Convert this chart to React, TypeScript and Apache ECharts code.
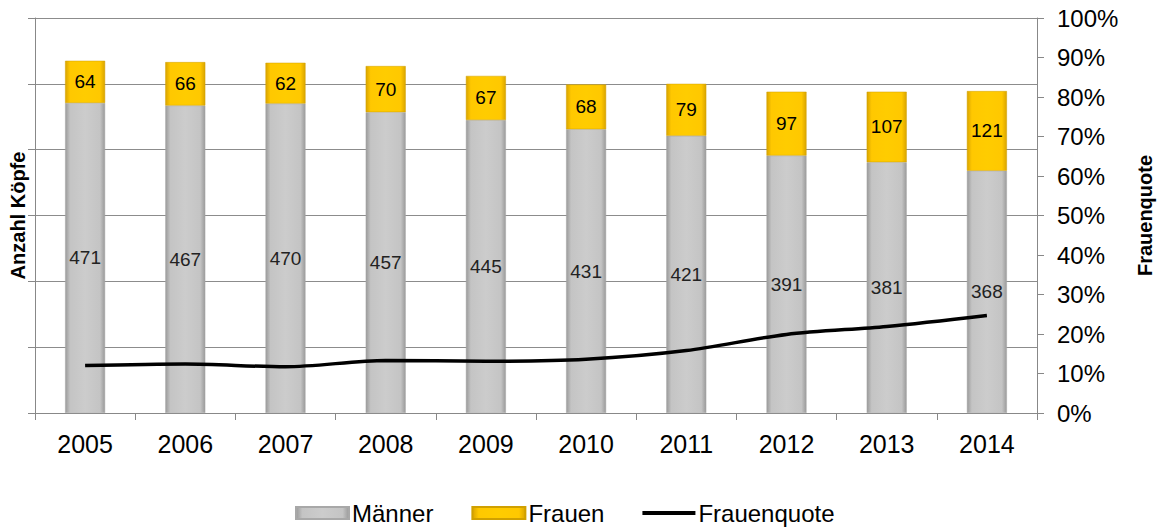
import React, { useEffect, useRef } from "react";
import * as echarts from "echarts";

const years = ["2005", "2006", "2007", "2008", "2009", "2010", "2011", "2012", "2013", "2014"];
const maenner = [471, 467, 470, 457, 445, 431, 421, 391, 381, 368];
const frauen = [64, 66, 62, 70, 67, 68, 79, 97, 107, 121];
const frauenquote = [0.12, 0.124, 0.117, 0.133, 0.131, 0.136, 0.158, 0.199, 0.219, 0.247];

const FONT = "'Liberation Sans', Arial, sans-serif";

export default function App() {
  const ref = useRef<HTMLDivElement>(null);
  useEffect(() => {
    if (!ref.current) return;
    const chart = echarts.init(ref.current, undefined, { renderer: "svg" });
    const grayGrad = new echarts.graphic.LinearGradient(0, 0, 1, 0, [
      { offset: 0, color: "#9a9a9a" },
      { offset: 0.12, color: "#c4c4c4" },
      { offset: 0.5, color: "#cccccc" },
      { offset: 0.88, color: "#c4c4c4" },
      { offset: 1, color: "#9a9a9a" },
    ]);
    const yellowGrad = new echarts.graphic.LinearGradient(0, 0, 1, 0, [
      { offset: 0, color: "#d9a400" },
      { offset: 0.12, color: "#ffc800" },
      { offset: 0.5, color: "#ffcc00" },
      { offset: 0.88, color: "#ffc800" },
      { offset: 1, color: "#d9a400" },
    ]);
    chart.setOption({
      animation: false,
      textStyle: { fontFamily: FONT },
      grid: { left: 35, right: 131, top: 18, bottom: 118 },
      legend: {
        top: 496,
        left: 290,
        itemWidth: 53,
        itemHeight: 12,
        itemGap: 38,
        textStyle: { fontSize: 24, color: "#000", fontFamily: FONT, padding: [0, 0, 0, -2] },
        data: [
          { name: "Männer", icon: "rect" },
          { name: "Frauen", icon: "rect" },
          { name: "Frauenquote", icon: "path://M0,0 L53,0 L53,4 L0,4 Z" },
        ],
      },
      xAxis: {
        type: "category",
        data: years,
        axisLine: { lineStyle: { color: "#888", width: 1 } },
        axisTick: { show: true, alignWithLabel: false, length: 7, lineStyle: { color: "#888" } },
        axisLabel: { fontSize: 25, color: "#000", margin: 18, fontFamily: FONT },
      },
      yAxis: [
        {
          type: "value",
          min: 0,
          max: 600,
          interval: 100,
          name: "Anzahl Köpfe",
          nameLocation: "middle",
          nameGap: 7,
          nameRotate: 90,
          nameTextStyle: { fontSize: 20, fontWeight: "bold", color: "#000", fontFamily: FONT },
          axisLine: { show: true, lineStyle: { color: "#888" } },
          axisTick: { show: true, length: 7, lineStyle: { color: "#888" } },
          axisLabel: { show: false },
          splitLine: { show: true, lineStyle: { color: "#8c8c8c", width: 1 } },
        },
        {
          type: "value",
          min: 0,
          max: 1,
          interval: 0.1,
          position: "right",
          name: "Frauenquote",
          nameLocation: "middle",
          nameGap: 98,
          nameRotate: 90,
          nameTextStyle: { fontSize: 20, fontWeight: "bold", color: "#000", fontFamily: FONT },
          axisLine: { show: true, lineStyle: { color: "#888" } },
          axisTick: { show: true, length: 7, lineStyle: { color: "#888" } },
          axisLabel: {
            fontSize: 24,
            color: "#000",
            margin: 20,
            fontFamily: FONT,
            formatter: (v: number) => Math.round(v * 100) + "%",
          },
          splitLine: { show: false },
        },
      ],
      series: [
        {
          name: "Männer",
          type: "bar",
          stack: "total",
          barWidth: 40,
          data: maenner,
          itemStyle: { color: grayGrad, borderColor: "#a8a8a8", borderWidth: 0.5 },
          label: { show: true, position: "inside", fontSize: 19, color: "#222", fontFamily: FONT },
        },
        {
          name: "Frauen",
          type: "bar",
          stack: "total",
          barWidth: 40,
          data: frauen,
          itemStyle: { color: yellowGrad, borderColor: "#d0a000", borderWidth: 0.5 },
          label: { show: true, position: "inside", fontSize: 19, color: "#000", fontFamily: FONT },
        },
        {
          name: "Frauenquote",
          type: "line",
          yAxisIndex: 1,
          data: frauenquote,
          smooth: 0.3,
          symbol: "none",
          lineStyle: { color: "#000", width: 3.5 },
          itemStyle: { color: "#000" },
        },
      ],
    });
    return () => chart.dispose();
  }, []);
  return <div ref={ref} style={{ width: 1168, height: 531, position: "absolute", left: 0, top: 0 }} />;
}
